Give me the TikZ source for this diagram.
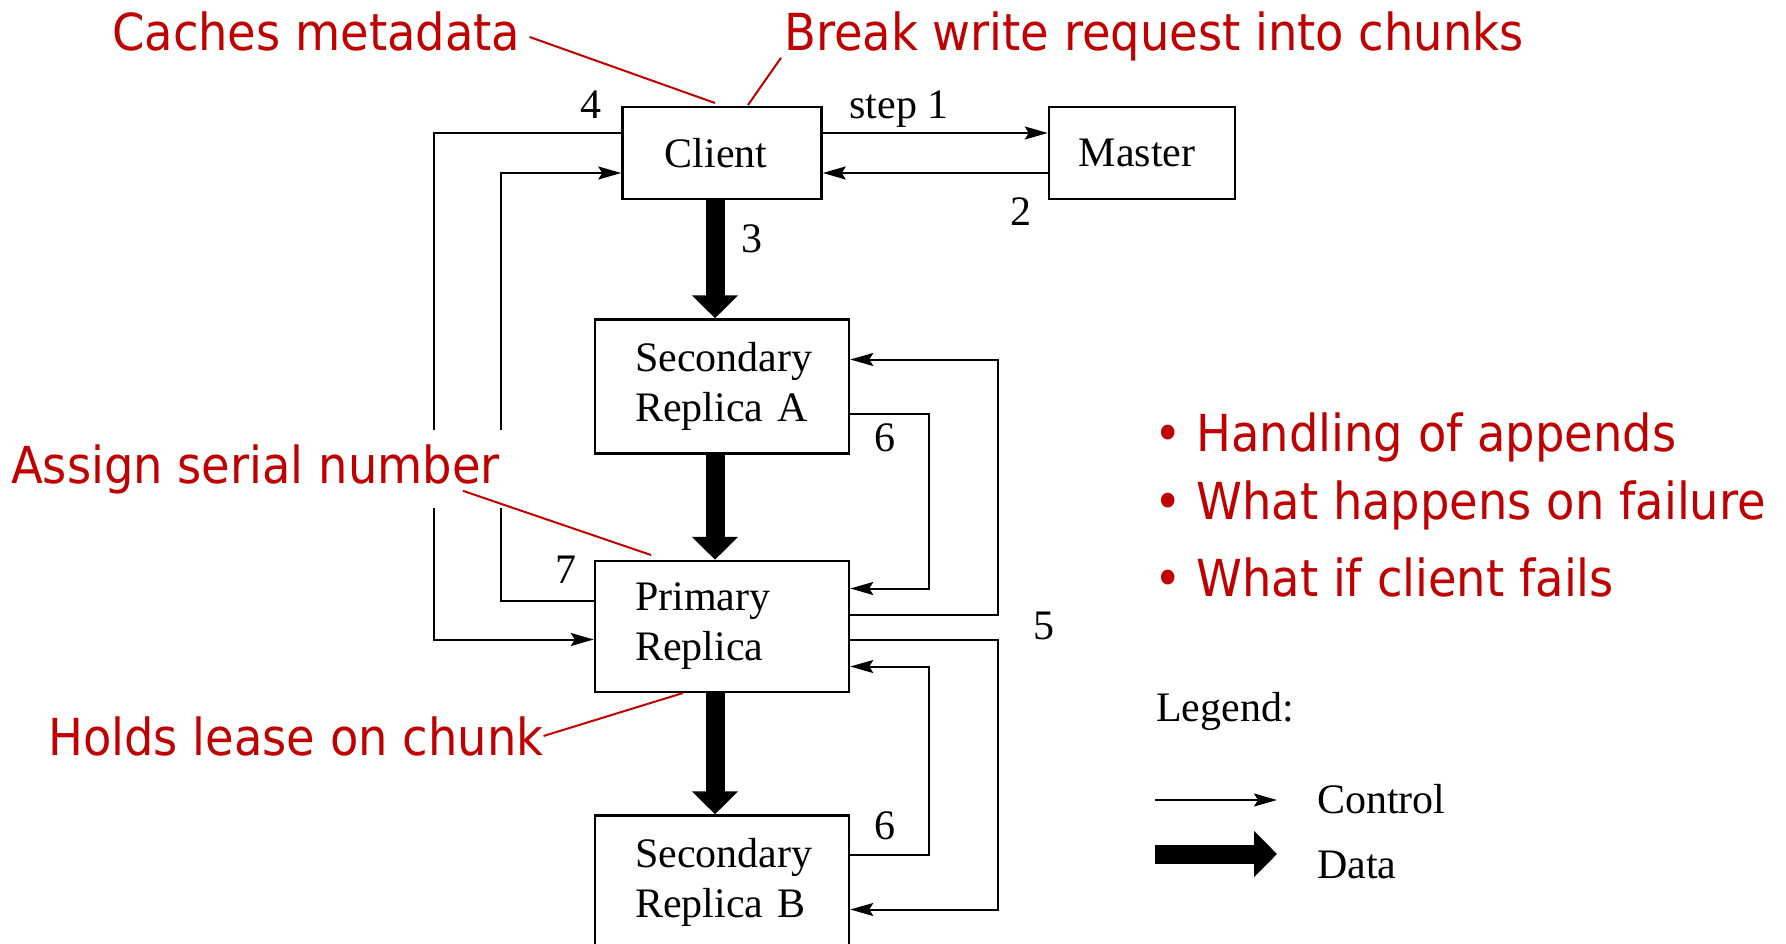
\documentclass[tikz,border=0pt]{standalone}
\usepackage{fontspec}
\setmainfont{Liberation Serif}
\newfontfamily\notefont[FakeStretch=0.91]{DejaVu Sans}
\usetikzlibrary{arrows.meta, positioning}
\definecolor{notered}{RGB}{192,0,0}

\begin{document}
\begin{tikzpicture}[x=1pt, y=-1pt,
    box/.style    ={draw, line width=2.5pt, align=center, inner sep=0pt,
                    font=\fontsize{42}{50}\selectfont},
    replica/.style={box, align=left, text width=174pt, inner xsep=40pt,
                    minimum height=134pt},
    num/.style    ={font=\fontsize{42}{50}\selectfont, inner sep=0pt},
    ctrl/.style   ={-{Stealth[length=23pt, width=13pt, inset=4pt]}, line width=2pt},
    data/.style   ={-{Triangle[length=23pt, width=45pt]}, line width=19pt},
    note/.style   ={font=\notefont\fontsize{51}{60}\selectfont, text=notered,
                    inner sep=0pt},
    lead/.style   ={draw=notered, line width=2pt},
]
\useasboundingbox (0,0) rectangle (1786,944);

% servers
\node[box, minimum width=199pt, minimum height=92pt] (client) at (722,153) {\kern-12pt Client};
\node[box, minimum width=186pt, minimum height=92pt, right=225pt of client] (master) {\kern-10pt Master};
\node[replica, below=118pt of client]  (seca)    {Secondary\\Replica A};
\node[replica, below=105pt of seca, minimum height=131pt] (primary) {Primary\\Replica};
\node[replica, below=121pt of primary] (secb)    {Secondary\\Replica B};

% control flow
\draw[ctrl] ([yshift=20pt]client.east) -- ([yshift=20pt]master.west);
\draw[ctrl] ([yshift=-20pt]master.west) -- ([yshift=-20pt]client.east);
\draw[ctrl] ([yshift=20pt]client.west) -- ++(-187,0) |- ([yshift=-13pt]primary.west);
\draw[ctrl] ([yshift=26pt]primary.west) -- ++(-93,0) |- ([yshift=-20pt]client.west);
\draw[ctrl] ([yshift=12pt]primary.east) -- ++(148,0) |- ([yshift=27pt]seca.east);
\draw[ctrl] ([yshift=-13pt]primary.east) -- ++(148,0) |- ([yshift=-27pt]secb.east);
\draw[ctrl] ([yshift=-27pt]seca.east) -- ++(79,0) |- ([yshift=38pt]primary.east);
\draw[ctrl] ([yshift=28pt]secb.east) -- ++(79,0) |- ([yshift=-40pt]primary.east);

% data flow
\draw[data] ([xshift=-7pt]client.south) -- ([xshift=-7pt]seca.north);
\draw[data] ([xshift=-7pt]seca.south) -- ([xshift=-7pt]primary.north);
\draw[data] ([xshift=-7pt]primary.south) -- ([xshift=-7pt]secb.north);

% step numbers
\node[num] (n1) at (899,109) {step 1};
\node[num] (n2) at (1021,212) {2};
\node[num] (n3) at (752,239) {3};
\node[num] (n4) at (591,105) {4};
\node[num] (n5) at (1044,626) {5};
\node[num] (n6a) at (885,438) {6};
\node[num] (n6b) at (885,826) {6};
\node[num] (n7) at (566,570) {7};

% remarks
\node[note, anchor=base west] (caches) at (112,51) {Caches metadata};
\node[note, anchor=base west] (breakw) at (784,51) {Break write request into chunks};
\node[note, anchor=base west, fill=white, inner xsep=5pt, inner ysep=14pt]
     (assign) at (6,483) {Assign serial number};
\node[note, anchor=base west] (holds) at (48,755) {Holds lease on chunk};
\coordinate (cachestip) at (715,103);
\coordinate (breaktip)  at (748,105);
\coordinate (assigntip) at (651,555);
\coordinate (holdstip)  at (683,693);
\draw[lead] ([xshift=9pt, yshift=-5pt]caches.east) -- (cachestip);
\draw[lead] ([xshift=-3pt, yshift=4pt]breakw.south west) -- (breaktip);
\draw[lead] ([xshift=-42pt, yshift=17pt]assign.south east) -- (assigntip);
\draw[lead] (holds.east) -- (holdstip);

\node[note, anchor=base west] (b1) at (1154,451) {• Handling of appends};
\node[note, anchor=base west] (b2) at (1154,519) {• What happens on failure};
\node[note, anchor=base west] (b3) at (1154,596) {• What if client fails};

% legend
\node[num, anchor=base west] (legend) at (1156,721) {Legend:};
\node[num, anchor=base west] (ctrltext) at (1317,813) {Control};
\node[num, anchor=base west] (datatext) at (1317,878) {Data};
\coordinate (ctrlA) at (1155,800);
\coordinate (ctrlB) at (1277,800);
\coordinate (dataA) at (1155,854);
\coordinate (dataB) at (1277,854);
\draw[ctrl] (ctrlA) -- (ctrlB);
\draw[data] (dataA) -- (dataB);
\end{tikzpicture}
\end{document}
